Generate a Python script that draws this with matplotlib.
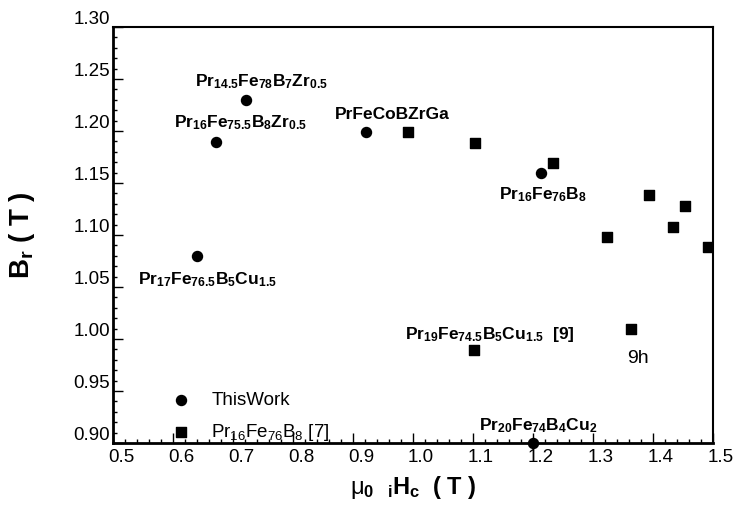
import matplotlib
matplotlib.use('Agg')
import matplotlib.pyplot as plt
import matplotlib.transforms as mtransforms
from matplotlib.ticker import MultipleLocator

plt.rcParams['font.family'] = ['Liberation Sans', 'DejaVu Sans']
plt.rcParams['mathtext.fontset'] = 'custom'
plt.rcParams['mathtext.rm'] = 'Liberation Sans'
plt.rcParams['mathtext.bf'] = 'Liberation Sans:bold'
plt.rcParams['mathtext.it'] = 'Liberation Sans:italic'
plt.rcParams['mathtext.default'] = 'regular'

# this work (circles)
this_hc = [0.722, 0.672, 0.922, 1.213, 0.640, 1.200]
this_br = [1.230, 1.189, 1.199, 1.160, 1.080, 0.900]

# Pr16Fe76B8 [7] and [9] (squares)
ref_hc = [0.992, 1.103, 1.233, 1.393, 1.453, 1.433, 1.323, 1.492, 1.102, 1.363]
ref_br = [1.199, 1.188, 1.169, 1.138, 1.128, 1.108, 1.098, 1.088, 0.989, 1.010]

labels = ['Pr$_{14.5}$Fe$_{78}$B$_7$Zr$_{0.5}$',
          'Pr$_{16}$Fe$_{75.5}$B$_8$Zr$_{0.5}$',
          'PrFeCoBZrGa',
          'Pr$_{16}$Fe$_{76}$B$_8$',
          'Pr$_{17}$Fe$_{76.5}$B$_5$Cu$_{1.5}$',
          'Pr$_{19}$Fe$_{74.5}$B$_5$Cu$_{1.5}$  [9]',
          'Pr$_{20}$Fe$_{74}$B$_4$Cu$_2$']
label_pos = [(0.747, 1.2433), (0.713, 1.2038), (0.965, 1.2115), (1.217, 1.1346),
             (0.658, 1.0529), (1.128, 1.0), (1.208, 0.9125)]

fig = plt.figure(figsize=(7.38, 5.08), dpi=100)
ax = fig.add_axes([113/738, 1-443/508, 600/738, 416/508])

ax.scatter(this_hc, this_br, s=52, marker='o', color='black', zorder=5,
           clip_on=False, label='ThisWork')
ax.scatter(ref_hc, ref_br, s=45, marker='s', color='black', zorder=5,
           label='Pr$_{16}$Fe$_{76}$B$_8$ [7]')

for txt, (x, y) in zip(labels, label_pos):
    ax.text(x, y, txt, ha='center', va='baseline', fontsize=12.5, fontweight='bold')
ax.text(1.375, 0.977, '9h', ha='center', va='baseline', fontsize=14)

ax.set_xlim(0.5, 1.5)
ax.set_ylim(0.90, 1.30)
ax.xaxis.set_major_locator(MultipleLocator(0.1))
ax.xaxis.set_minor_locator(MultipleLocator(0.02))
ax.yaxis.set_major_locator(MultipleLocator(0.05))
ax.yaxis.set_minor_locator(MultipleLocator(0.01))
ax.xaxis.set_major_formatter(plt.FormatStrFormatter('%.1f'))
ax.yaxis.set_major_formatter(plt.FormatStrFormatter('%.2f'))
ax.tick_params(which='both', direction='in', top=False, right=False,
               labelsize=13.5, width=1)
ax.tick_params(which='major', length=7)
ax.tick_params(which='minor', length=3)
ax.tick_params(axis='y', pad=2)
ax.tick_params(axis='x', pad=4)
for s in ax.spines.values():
    s.set_linewidth(1.5)
ax.spines['bottom'].set_linewidth(2)
ax.spines['left'].set_linewidth(2)

# tick labels in the original sit a bit off their ticks
dx = mtransforms.ScaledTranslation(8/100, 0, fig.dpi_scale_trans)
dy = mtransforms.ScaledTranslation(0, 9/100, fig.dpi_scale_trans)
for lab in ax.get_xticklabels():
    lab.set_transform(lab.get_transform() + dx)
for lab in ax.get_yticklabels():
    lab.set_transform(lab.get_transform() + dy)

ax.set_ylabel(r'$\mathbf{B_r\ (\ T\ )}$', fontsize=20, labelpad=26)
ax.set_xlabel(r'$\mu_\mathbf{0}\ \ {}_\mathbf{i}\mathbf{H_c}\ \ \mathbf{(\ T\ )}$',
              fontsize=17, labelpad=6)

ax.legend(loc='upper left', bbox_to_anchor=(0.098, 0.122), frameon=False,
          fontsize=13.5, handlelength=1, handletextpad=1.1, labelspacing=0.65,
          borderpad=0, borderaxespad=0)

fig.savefig('out.png', dpi=100)
